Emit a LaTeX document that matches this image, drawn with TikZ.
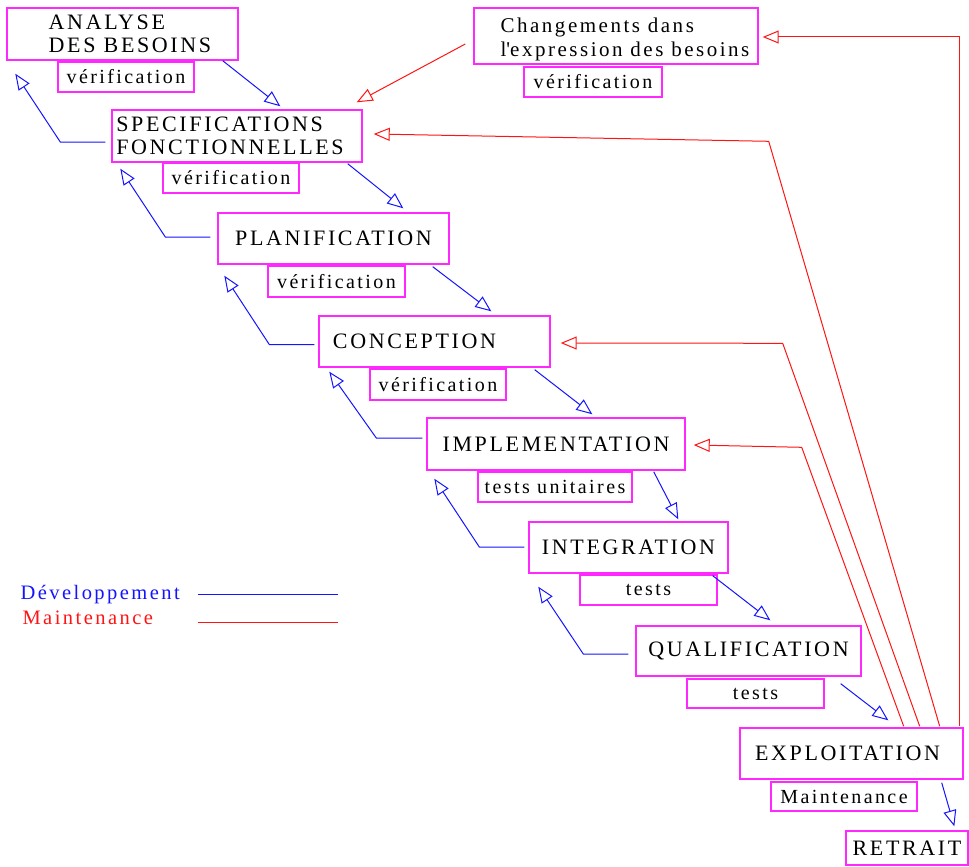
\documentclass[tikz,border=0pt]{standalone}
\usepackage{fontspec}
\setmainfont{Liberation Serif}[LetterSpace=12]
\usetikzlibrary{arrows.meta,calc}

\definecolor{boxpink}{RGB}{255,40,255}
\definecolor{devblue}{RGB}{20,20,255}
\definecolor{mntred}{RGB}{255,20,20}

\tikzset{
  stage/.style={draw=boxpink, line width=1.4pt, inner sep=0pt,
    font=\fontsize{22}{23}\selectfont, align=left},
  check/.style={draw=boxpink, line width=1.4pt, inner sep=0pt,
    font=\fontsize{20}{22}\selectfont, minimum width=136pt, minimum height=30pt},
  opentip/.style={-{Triangle[open,length=16pt,width=13pt]}},
  dev/.style={opentip, color=devblue, line width=1pt},
  mnt/.style={opentip, color=mntred, line width=1pt},
  legend/.style={anchor=base west, font=\fontsize{20.5}{22}\selectfont},
}

\begin{document}
\begin{tikzpicture}[x=1pt, y=-1pt]
\useasboundingbox (0,0) rectangle (969,867);

% life-cycle stages
\node[stage, minimum width=231pt, minimum height=52pt] (ana) at (122.5,34)
  {\hspace*{15pt}ANALYSE\\\hspace*{15pt}DES BESOINS};
\node[check] (anav) at (126,77) {vérification};

\node[stage, minimum width=250pt, minimum height=52pt] (spec) at (237,136)
  {\hspace*{-14pt}SPECIFICATIONS\\\hspace*{-14pt}FONCTIONNELLES};
\node[check] (specv) at (231,178) {vérification};

\node[stage, minimum width=231pt, minimum height=51pt] (plan) at (333.5,238.5)
  {PLANIFICATION};
\node[check, minimum width=137pt, minimum height=31pt] (planv) at (336.5,281.5) {vérification};

\node[stage, minimum width=231pt, minimum height=51pt] (conc) at (434.5,341.5)
  {\hspace*{-40pt}CONCEPTION};
\node[check, minimum height=31pt] (concv) at (438,384.5) {vérification};

\node[stage, minimum width=258pt, minimum height=52pt] (impl) at (556,444)
  {IMPLEMENTATION};
\node[check, minimum width=154pt] (implv) at (555,487) {tests unitaires};

\node[stage, minimum width=199pt, minimum height=51pt] (integ) at (628.5,547.5)
  {INTEGRATION};
\node[check, minimum width=137pt] (integv) at (648.5,590) {tests};

\node[stage, minimum width=225pt, minimum height=50pt] (qual) at (748.5,651)
  {QUALIFICATION};
\node[check, minimum width=137pt, minimum height=29pt] (qualv) at (755.5,693.5) {tests};

\node[stage, minimum width=223pt, minimum height=51pt] (expl) at (851.5,753.5)
  {\hspace*{-8pt}EXPLOITATION};
\node[check, minimum width=146pt, minimum height=29pt] (explv) at (844,796.5) {Maintenance};

\node[stage, minimum width=122pt, minimum height=34pt] (ret) at (907,848)
  {RETRAIT};

\node[stage, font=\fontsize{21}{24}\selectfont, minimum width=284pt, minimum height=56pt]
  (chg) at (616,36)
  {\rule{0pt}{21pt}\hspace*{18pt}Changements dans\\\hspace*{18pt}l\textquotesingle expression des besoins};
\node[check, minimum width=138pt] (chgv) at (593,82) {vérification};

% development flow: forward steps
\draw[dev] ($(ana.south east)+(-16,0)$) -- ($(spec.north west)+(169,-3)$);
\draw[dev] ($(spec.south east)+(-15,1)$) -- ($(plan.north west)+(186,-4)$);
\draw[dev] ($(plan.south east)+(-17,2)$) -- ($(conc.north west)+(173,-4)$);
\draw[dev] ($(conc.south east)+(-16,2)$) -- ($(impl.north west)+(166,-3)$);
\draw[dev] ($(impl.south east)+(-32,1)$) -- ($(integ.north west)+(150,-2)$);
\draw[dev] ($(integ.south east)+(-16,2)$) -- ($(qual.north west)+(135,-5)$);
\draw[dev] ($(qual.south east)+(-21,7)$) -- ($(expl.north west)+(149,-7)$);
\draw[dev] ($(expl.south east)+(-22,3)$) -- ($(ret.north west)+(109,-4)$);

% development flow: feedback to the previous stage
\draw[dev] ($(spec.west)+(-6,6)$) -- ++(-45,0) -- ($(ana.south west)+(9,13)$);
\draw[dev] ($(plan.west)+(-7,-1.5)$) -- ++(-45,0) -- ($(spec.south west)+(9,6)$);
\draw[dev] ($(conc.west)+(-4,3)$) -- ++(-45,0) -- ($(plan.south west)+(7,11)$);
\draw[dev] ($(impl.west)+(-4,-6)$) -- ++(-46,0) -- ($(conc.south west)+(11,4)$);
\draw[dev] ($(integ.west)+(-4,-0.5)$) -- ++(-45,0) -- ($(impl.south west)+(8,8)$);
\draw[dev] ($(qual.west)+(-7,3)$) -- ++(-45,0) -- ($(integ.south west)+(10,13)$);

% maintenance flow
\draw[mnt] ($(chg.west)+(-8,8)$) -- ($(spec.north east)+(-6,-7)$);
\draw[mnt] ($(expl.north east)+(-4,-1)$) |- ($(chg.east)+(4,1)$);
\draw[mnt] ($(expl.north east)+(-24,-1)$) -- ++(-171,-585) -- ($(spec.east)+(11,-2)$);
\draw[mnt] ($(expl.north east)+(-44,-1)$) -- ++(-137,-383) -- ($(conc.east)+(10,1.5)$);
\draw[mnt] ($(expl.north east)+(-60,-1)$) -- ++(-102,-279) -- ($(impl.east)+(8,1)$);

% legend
\node[legend, text=devblue] (legdev) at (17,599) {Développement};
\node[legend, text=mntred] (legmnt) at (19,624) {Maintenance};
\coordinate (devA) at (198,594);
\coordinate (devB) at (338,594);
\coordinate (mntA) at (198,622);
\coordinate (mntB) at (338,622);
\draw[devblue, line width=1pt] (devA) -- (devB);
\draw[mntred, line width=1pt] (mntA) -- (mntB);
\end{tikzpicture}
\end{document}
